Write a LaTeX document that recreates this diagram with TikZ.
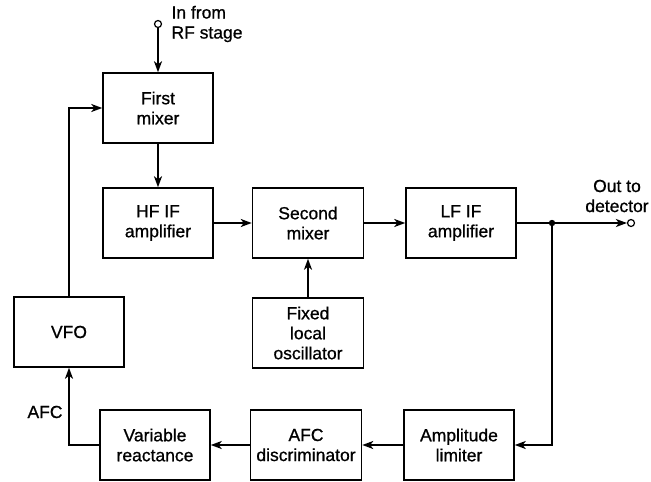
\documentclass[tikz,border=0pt]{standalone}
\usepackage{fontspec}
\setmainfont{Liberation Sans}[FakeBold=0.8]
\usetikzlibrary{arrows.meta}

\begin{document}
\begin{tikzpicture}[x=1pt,y=-1pt,font=\fontsize{17.5}{20}\selectfont,>={Stealth[length=11pt,width=8pt,inset=3pt]},
  blk/.style={draw,line width=1.5pt,minimum width=110pt,minimum height=70pt,align=center,inner sep=2pt},
  wide/.style={blk,minimum width=111pt},
  wire/.style={line width=1.8pt},
  term/.style={draw,circle,line width=1.2pt,inner sep=0pt,minimum size=7pt,fill=white}]
\useasboundingbox (0,0) rectangle (651,482);
\node[blk] (FM) at (158,108) {First\\mixer};
\node[blk] (HF) at (158,223) {HF IF\\amplifier};\node[wide] (SM) at (308,223) {Second\\mixer};\node[blk] (LF) at (461,223) {LF IF\\amplifier};
\node[wide] (LO) at (308,333) {Fixed\\local\\oscillator};\node[blk] (VFO) at (69,332) {VFO};
\node[blk] (VR) at (155,445) {Variable\\reactance};\node[wide] (AD) at (306,445) {AFC\\discriminator};\node[blk] (AL) at (459,445) {Amplitude\\limiter};
\node[term] (IN) at (158,24) {};\node[term] (OUT) at (631,223) {};
\coordinate (J) at (552,223);
\node[anchor=west,align=left] (INT) at (168,24) {In from\\RF stage};
\node[align=center] (OUTT) at (617,196) {Out to\\detector};
\node (AFC) at (45,412) {AFC};
\draw[wire,->] (IN) -- (FM);
\draw[wire,->] (FM) -- (HF);
\draw[wire,->] (HF) -- (SM);
\draw[wire,->] (SM) -- (LF);
\draw[wire,->] (LO) -- (SM);
\draw[wire] (LF) -- (J);
\draw[wire,->] (J) -- (OUT);
\fill (J) circle (3.2pt);
\draw[wire,->] (J) |- (AL);
\draw[wire,->] (AL) -- (AD);
\draw[wire,->] (AD) -- (VR);
\draw[wire,->] (VR) -| (VFO);
\draw[wire,->] (VFO) |- (FM);
\end{tikzpicture}
\end{document}
